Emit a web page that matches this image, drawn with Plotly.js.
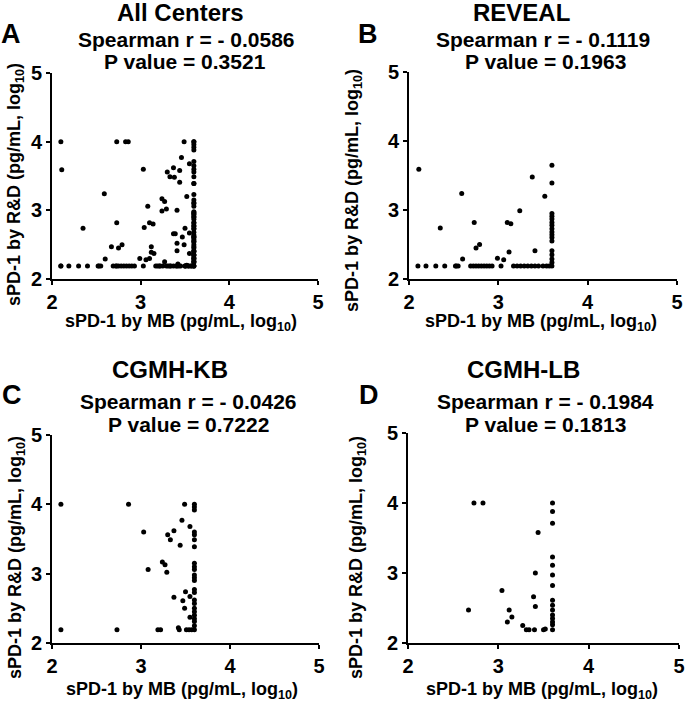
<!DOCTYPE html>
<html>
<head>
<meta charset="utf-8">
<script src="https://cdn.plot.ly/plotly-3.0.1.min.js"></script>
<style>html,body{margin:0;padding:0;background:#fff;}#chart{width:685px;height:704px;}</style>
</head>
<body>
<div id="chart"></div>
<script>
// ---- data (log10 pg/mL) ----
const revealX = [2.11, 2.35, 2.59, 2.60, 2.73, 2.75, 2.79, 2.99, 3.06, 3.10, 3.14, 3.12, 3.24, 3.38, 3.41, 3.52, 3.60, 3.60,
  3.60, 3.60, 3.60, 3.60, 3.60, 3.60, 3.60, 3.60, 3.60, 3.60, 3.60, 3.60, 3.60, 3.60,
  2.10, 2.19, 2.30, 2.40, 2.52, 2.53, 2.55, 2.69, 2.72, 2.75, 2.78, 2.81, 2.84, 2.87, 2.90, 2.93, 3.03, 3.17, 3.21, 3.25, 3.29, 3.33, 3.37, 3.41, 3.45, 3.50, 3.54, 3.57, 3.60];
const revealY = [3.59, 2.74, 3.24, 2.29, 2.82, 2.45, 2.50, 2.30, 2.28, 2.82, 2.80, 2.39, 2.99, 3.48, 2.41, 3.20, 3.65, 3.39,
  2.95, 2.91, 2.87, 2.82, 2.78, 2.73, 2.68, 2.64, 2.60, 2.55, 2.41, 2.35, 2.29, 2.24,
  2.19, 2.19, 2.19, 2.19, 2.19, 2.19, 2.19, 2.19, 2.19, 2.19, 2.19, 2.19, 2.19, 2.19, 2.19, 2.19, 2.19, 2.19, 2.19, 2.19, 2.19, 2.19, 2.19, 2.19, 2.19, 2.19, 2.19, 2.19, 2.19];

const kbX = [2.10, 2.10, 2.73, 2.86, 3.03, 3.08, 3.19, 3.22, 3.24, 3.27, 3.29, 3.30, 3.33, 3.37, 3.44, 3.46, 3.49, 3.55, 3.37, 3.47, 3.50, 3.55, 3.49, 3.55, 3.42, 3.43, 3.51, 3.54, 3.57,
  3.60, 3.60, 3.60, 3.60, 3.60, 3.60, 3.60, 3.60, 3.60, 3.60, 3.60, 3.60, 3.60, 3.60, 3.60, 3.60, 3.60, 3.60, 3.60, 3.60, 3.60, 3.60, 3.60, 3.60];
const kbY = [4.00, 2.19, 2.19, 4.00, 3.60, 3.06, 2.19, 2.19, 3.17, 3.13, 3.02, 3.56, 3.49, 3.62, 3.41, 3.77, 4.00, 3.68, 2.66, 2.61, 2.74, 2.67, 2.50, 2.37, 2.22, 2.19, 2.19, 2.19, 2.19,
  4.00, 3.96, 3.92, 3.60, 3.56, 3.49, 3.39, 3.15, 3.10, 3.06, 2.98, 2.94, 2.90, 2.77, 2.73, 2.62, 2.57, 2.50, 2.45, 2.40, 2.35, 2.31, 2.25, 2.19];

const lbX = [2.67, 2.73, 2.83, 3.04, 3.12, 3.15, 3.10, 3.27, 3.31, 3.34, 3.40, 3.39, 3.41, 3.41, 3.44, 3.50, 3.52,
  3.60, 3.60, 3.60, 3.60, 3.60, 3.60, 3.60, 3.60, 3.60, 3.60, 3.60, 3.60, 3.60, 3.60, 3.60];
const lbY = [2.47, 4.00, 4.00, 2.75, 2.47, 2.37, 2.30, 2.25, 2.19, 2.19, 2.19, 2.66, 2.52, 3.00, 3.58, 2.19, 2.20,
  4.00, 3.88, 3.71, 3.23, 3.11, 2.97, 2.82, 2.61, 2.54, 2.47, 2.40, 2.35, 2.30, 2.26, 2.19];

// All centers = union of the three cohorts
const allX = revealX.concat(kbX, lbX);
const allY = revealY.concat(kbY, lbY);

const panelTitles = ["All Centers", "REVEAL", "CGMH-KB", "CGMH-LB"];
const panelLetters = ["A", "B", "C", "D"];
const spearmanR = ["- 0.0586", "- 0.1119", "- 0.0426", "- 0.1984"];
const pValues = ["0.3521", "0.1963", "0.7222", "0.1813"];
const tickVals = [2, 3, 4, 5];
const tickText = ["2", "3", "4", "5"];

// ---- layout ----
const W = 685, H = 704;
const FONT = "Liberation Sans, Arial, Helvetica, sans-serif";
const px = v => v / W;
const py = v => 1 - v / H;

const panels = [
  {x: allX, y: allY, dom: [52, 318, 73, 279], title: [180, 12], letter: [11, 34], s1: [186, 40], s2: [185, 61], xt: [181, 323], yt: [16, 185]},
  {x: revealX, y: revealY, dom: [409, 677, 72, 279], title: [521, 12], letter: [368, 34], s1: [543, 40], s2: [545, 61], xt: [541, 323], yt: [353, 190]},
  {x: kbX, y: kbY, dom: [52, 319, 435, 643], title: [170, 369], letter: [12, 395], s1: [188, 401], s2: [188, 424], xt: [182, 690], yt: [16, 558]},
  {x: lbX, y: lbY, dom: [408, 679, 433, 643], title: [523, 369], letter: [369, 395], s1: [545, 401], s2: [545, 424], xt: [542, 690], yt: [357, 558]}
];

const traces = [];
const layout = {
  width: W, height: H,
  margin: {l: 0, r: 0, t: 0, b: 0},
  paper_bgcolor: "#fff", plot_bgcolor: "#fff",
  showlegend: false,
  font: {family: FONT, color: "#000"},
  annotations: []
};

function axisCommon(domain) {
  return {
    domain: domain, range: [2, 5], autorange: false,
    tickmode: "array", tickvals: tickVals, ticktext: tickText,
    showgrid: false, zeroline: false,
    showline: true, linecolor: "#000", linewidth: 2,
    ticks: "outside", ticklen: 4, tickwidth: 2, tickcolor: "#000",
    tickfont: {family: FONT, size: 20, color: "#000", weight: "bold"},
    fixedrange: true
  };
}

function ann(text, pos, size, extra) {
  return Object.assign({
    text: text, x: px(pos[0]), y: py(pos[1]), xref: "paper", yref: "paper",
    xanchor: "center", yanchor: "middle", showarrow: false,
    font: {family: FONT, size: size, color: "#000", weight: "bold"}
  }, extra || {});
}

panels.forEach((p, i) => {
  const n = i === 0 ? "" : String(i + 1);
  traces.push({
    type: "scatter", mode: "markers", x: p.x, y: p.y,
    xaxis: "x" + n, yaxis: "y" + n,
    marker: {color: "#000", size: 5},
    cliponaxis: false, hoverinfo: "x+y"
  });
  const xa = axisCommon([px(p.dom[0]), px(p.dom[1])]);
  xa.anchor = "y" + n;
  const ya = axisCommon([py(p.dom[3]), py(p.dom[2])]);
  ya.anchor = "x" + n;
  layout["xaxis" + n] = xa;
  layout["yaxis" + n] = ya;

  layout.annotations.push(ann(panelTitles[i], p.title, 24));
  layout.annotations.push(ann(panelLetters[i], p.letter, 27));
  layout.annotations.push(ann("Spearman r = " + spearmanR[i], p.s1, 21));
  layout.annotations.push(ann("P value = " + pValues[i], p.s2, 21));
  layout.annotations.push(ann("sPD-1 by MB (pg/mL, log<sub>10</sub>)", p.xt, 18));
  layout.annotations.push(ann("sPD-1 by R&amp;D (pg/mL, log<sub>10</sub>)", p.yt, 18, {textangle: -90}));
});

Plotly.newPlot("chart", traces, layout, {displayModeBar: false, staticPlot: true});
</script>
</body>
</html>
